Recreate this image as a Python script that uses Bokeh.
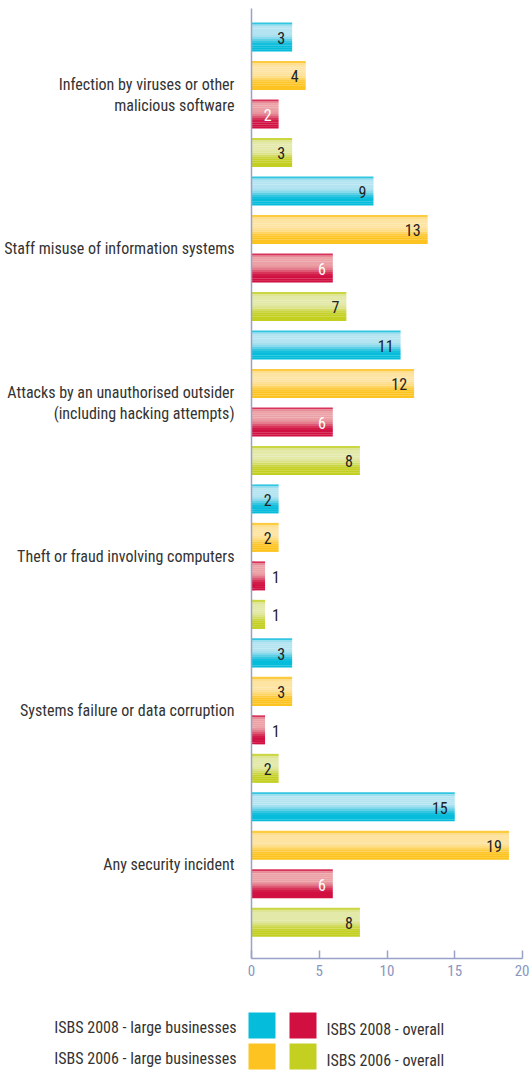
import numpy as np
from bokeh.plotting import figure
from bokeh.models import Range1d, FixedTicker, ColumnDataSource, LinearAxis
from bokeh.core.properties import value
from bokeh.embed import file_html
from bokeh.resources import INLINE

# ---------------- data ----------------
categories = [
    "Infection by viruses or other\nmalicious software",
    "Staff misuse of information systems",
    "Attacks by an unauthorised outsider\n(including hacking attempts)",
    "Theft or fraud involving computers",
    "Systems failure or data corruption",
    "Any security incident",
]
series_names = [
    "ISBS 2008 - large businesses",
    "ISBS 2006 - large businesses",
    "ISBS 2008 - overall",
    "ISBS 2006 - overall",
]
isbs2008_large = [3, 9, 11, 2, 3, 15]
isbs2006_large = [4, 13, 12, 2, 3, 19]
isbs2008_overall = [2, 6, 6, 1, 1, 6]
isbs2006_overall = [3, 7, 8, 1, 2, 8]
x_ticks = [0, 5, 10, 15, 20]

# ---------------- style ----------------
FONT = "Roboto Condensed, Roboto"
FS = "16px"
base_colors = ["#06bcdb", "#fdc320", "#d10f41", "#c3cf21"]
light_colors = ["#b5e4f1", "#fee4a3", "#eba1a6", "#e3e9a9"]
label_colors = ["#222222", "#222222", "#ffffff", "#222222"]
AXIS = "#98a2c8"

series = [isbs2008_large, isbs2006_large, isbs2008_overall, isbs2006_overall]
ns = len(series)

ys, vals, bidx = [], [], []
for ci in range(len(categories)):
    for si in range(ns):
        ys.append(ci * ns + si)
        vals.append(series[si][ci])
        bidx.append(si)


def mix(c1, c2, t):
    a = [int(c1[i:i + 2], 16) for i in (1, 3, 5)]
    b = [int(c2[i:i + 2], 16) for i in (1, 3, 5)]
    m = [round(a[k] + (b[k] - a[k]) * t) for k in range(3)]
    return "#%02x%02x%02x" % tuple(m)


W, H = 529, 1070
PL, PR, PT, PB = 251, 522, 8, 958   # plot-area edges in page pixels
n_slots = len(ys)
Y_TOP, Y_BOT = -0.5 - 0.24, n_slots - 0.5 + 0.44
X0, X1 = 0, 20


def px_x(px):
    return X0 + (px - PL) * (X1 - X0) / (PR - PL)


def px_y(py):
    return Y_TOP + (py - PT) * (Y_BOT - Y_TOP) / (PB - PT)


p = figure(
    width=W, height=H,
    x_range=Range1d(px_x(0), px_x(W)),
    y_range=Range1d(px_y(H), px_y(0)),
    x_axis_location=None, y_axis_location=None,
    output_backend="svg", toolbar_location=None, min_border=0,
)
p.outline_line_color = None
p.grid.visible = False
p.background_fill_color = "white"

# gradient bars built from horizontal strips
bar_h = 0.75
profile = [0.25, 0.85, 1, 1, 1, 1, 0.92, 0.75, 0.5, 0.25, 0.08, 0, 0, 0]
N = len(profile)
for j, t in enumerate(profile):
    off = -bar_h / 2 + (j + 0.5) * bar_h / N
    cols = [mix(base_colors[b], light_colors[b], t) for b in bidx]
    p.hbar(y=[y + off for y in ys], left=0, right=vals,
           height=bar_h / N * 1.08, fill_color=cols, line_color=None)

# value labels
inside = [i for i, v in enumerate(vals) if v >= 2]
outside = [i for i, v in enumerate(vals) if v < 2]
src_in = ColumnDataSource(dict(
    x=[vals[i] for i in inside], y=[ys[i] for i in inside],
    t=[str(vals[i]) for i in inside], c=[label_colors[bidx[i]] for i in inside]))
src_out = ColumnDataSource(dict(
    x=[vals[i] for i in outside], y=[ys[i] for i in outside],
    t=[str(vals[i]) for i in outside]))
p.text(x="x", y="y", text="t", source=src_in, text_color="c",
       text_align="right", text_baseline="middle", x_offset=-7, y_offset=1,
       text_font=value(FONT), text_font_size=FS)
p.text(x="x", y="y", text="t", source=src_out, text_color="#222222",
       text_align="left", text_baseline="middle", x_offset=7, y_offset=1,
       text_font=value(FONT), text_font_size=FS)

# x axis (fixed at bottom of plot area)
xaxis = LinearAxis(fixed_location=Y_BOT, bounds=(X0, X1),
                   ticker=FixedTicker(ticks=x_ticks))
xaxis.axis_line_color = AXIS
xaxis.axis_line_width = 1.5
xaxis.major_tick_line_color = AXIS
xaxis.major_tick_line_width = 1.5
xaxis.major_tick_in = 8
xaxis.major_tick_out = 0
xaxis.minor_tick_line_color = None
xaxis.major_label_text_color = "#8a96c0"
xaxis.major_label_text_font = FONT
xaxis.major_label_text_font_size = "15px"
xaxis.major_label_standoff = 6
p.add_layout(xaxis, "below")

# y axis with category labels (fixed at x = 0)
centers = [ci * ns + (ns - 1) / 2 for ci in range(len(categories))]
yaxis = LinearAxis(fixed_location=X0, bounds=(Y_TOP, Y_BOT),
                   ticker=FixedTicker(ticks=centers))
yaxis.major_label_overrides = {c: name for c, name in zip(centers, categories)}
yaxis.axis_line_color = AXIS
yaxis.axis_line_width = 1.5
yaxis.major_tick_line_color = None
yaxis.minor_tick_line_color = None
yaxis.major_label_standoff = 11
yaxis.major_label_text_color = "#333333"
yaxis.major_label_text_font = FONT
yaxis.major_label_text_font_size = FS
yaxis.major_label_text_line_height = 1.1
p.add_layout(yaxis, "left")

# ---------------- legend (below the axis) ----------------
sq_left = [248, 248, 289, 289]
sq_top = [1012, 1043, 1012, 1043]
p.quad(left=[px_x(x) for x in sq_left], right=[px_x(x + 27) for x in sq_left],
       top=[px_y(y) for y in sq_top], bottom=[px_y(y + 26) for y in sq_top],
       fill_color=base_colors, line_color=None)
p.text(x=[px_x(236)] * 2, y=[px_y(1027), px_y(1058)], text=series_names[:2],
       text_align="right", text_baseline="middle", text_color="#333333",
       text_font=value(FONT), text_font_size=FS)
p.text(x=[px_x(326)] * 2, y=[px_y(1029), px_y(1060)], text=series_names[2:],
       text_align="left", text_baseline="middle", text_color="#333333",
       text_font=value(FONT), text_font_size=FS)

open("out.html", "w").write(file_html(p, INLINE))
